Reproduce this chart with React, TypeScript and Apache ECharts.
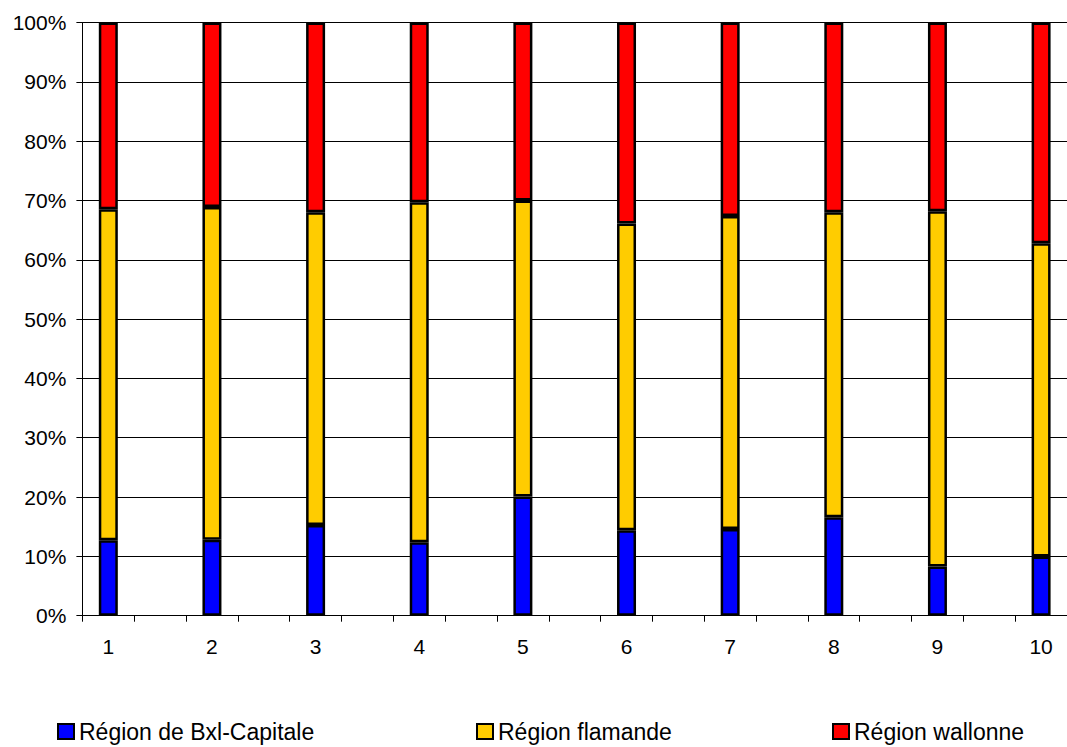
import React, { useEffect, useRef } from "react";
import * as echarts from "echarts";

const groups = ["1", "2", "3", "4", "5", "6", "7", "8", "9", "10"];
const bxl = [12.7, 12.8, 15.3, 12.4, 20.1, 14.4, 14.6, 16.6, 8.3, 10.0];
const flamande = [55.8, 56.1, 52.7, 57.3, 49.9, 51.7, 52.8, 51.4, 59.9, 52.8];
const wallonne = [31.5, 31.1, 32.0, 30.3, 30.0, 33.9, 32.6, 32.0, 31.8, 37.2];
const seriesNames = ["Région de Bxl-Capitale", "Région flamande", "Région wallonne"];
const colors = ["#0000FF", "#FFCC00", "#FF0000"];

// categories: each group followed by an empty slot (last one without)
const categories: string[] = [];
groups.forEach((g, i) => {
  categories.push(g);
  if (i < groups.length - 1) categories.push("");
});
const spread = (arr: number[]) => {
  const out: (number | string)[] = [];
  arr.forEach((v, i) => {
    out.push(v);
    if (i < arr.length - 1) out.push("-");
  });
  return out;
};

const FONT = "'Liberation Sans', Arial, sans-serif";

export default function App() {
  const ref = useRef<HTMLDivElement>(null);
  useEffect(() => {
    if (!ref.current) return;
    const chart = echarts.init(ref.current, null, { renderer: "svg" });
    const data = [bxl, flamande, wallonne];
    const legendLefts = [57, 476, 832];
    chart.setOption({
      animation: false,
      backgroundColor: "#fff",
      textStyle: { fontFamily: FONT },
      grid: { left: 82.4, top: 22.5, height: 593.2, width: 993.3 },
      legend: seriesNames.map((n, i) => ({
        data: [n],
        left: legendLefts[i],
        top: 720,
        padding: 0,
        itemWidth: 16,
        itemHeight: 15,
        icon: "rect",
        itemStyle: { borderColor: "#000", borderWidth: 2 },
        textStyle: { fontSize: 23, color: "#000", fontFamily: FONT },
      })),
      xAxis: {
        type: "category",
        data: categories,
        boundaryGap: true,
        axisLine: { lineStyle: { color: "#000", width: 1 } },
        axisTick: { show: true, interval: 0, length: 6, lineStyle: { color: "#000" } },
        axisLabel: { interval: 0, fontSize: 21, color: "#000", margin: 20, fontFamily: FONT },
        splitLine: { show: false },
      },
      yAxis: {
        type: "value",
        min: 0,
        max: 100,
        interval: 10,
        axisLine: { show: true, lineStyle: { color: "#000", width: 1 } },
        axisTick: { show: true, length: 6, lineStyle: { color: "#000" } },
        axisLabel: { formatter: "{value}%", fontSize: 21, color: "#000", margin: 16, fontFamily: FONT },
        splitLine: { show: true, lineStyle: { color: "#000", width: 1 } },
      },
      series: seriesNames.map((n, i) => ({
        name: n,
        type: "bar",
        stack: "total",
        barWidth: 19,
        data: spread(data[i]),
        itemStyle: { color: colors[i], borderColor: "#000", borderWidth: 2.5 },
      })),
    });
    return () => chart.dispose();
  }, []);
  return (
    <div
      ref={ref}
      style={{ position: "absolute", left: 0, top: 0, width: 1067, height: 747 }}
    />
  );
}
